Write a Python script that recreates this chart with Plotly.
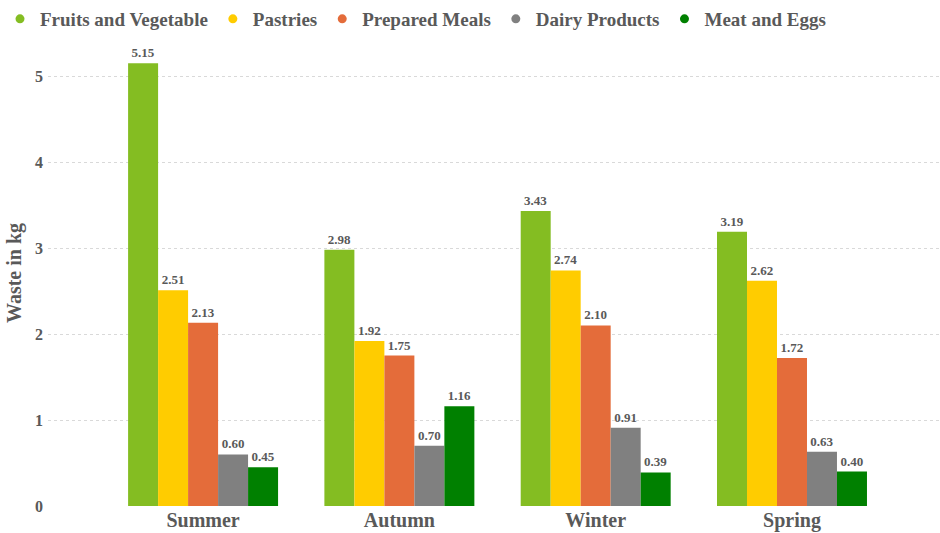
import plotly.graph_objects as go

seasons = ["Summer", "Autumn", "Winter", "Spring"]
series_names = ["Fruits and Vegetable", "Pastries", "Prepared Meals", "Dairy Products", "Meat and Eggs"]
fruits_veg = [5.15, 2.98, 3.43, 3.19]
pastries = [2.51, 1.92, 2.74, 2.62]
prepared_meals = [2.13, 1.75, 2.10, 1.72]
dairy = [0.60, 0.70, 0.91, 0.63]
meat_eggs = [0.45, 1.16, 0.39, 0.40]
y_ticks = [0, 1, 2, 3, 4, 5]

series_values = [fruits_veg, pastries, prepared_meals, dairy, meat_eggs]
colors = ["#84BD22", "#FFCC00", "#E46C3A", "#808080", "#008000"]

FONT = "Liberation Serif, Times New Roman, Tinos, DejaVu Serif, serif"
TXT = "#595959"

fig = go.Figure()
for name, vals, col in zip(series_names, series_values, colors):
    fig.add_trace(go.Bar(
        x=seasons, y=vals, name=name, marker=dict(color=col, line=dict(width=0)),
        text=[f"{v:.2f}" for v in vals], textposition="outside",
        textfont=dict(family=FONT, size=13, color=TXT, weight="bold"),
        cliponaxis=False, showlegend=False, hoverinfo="skip",
    ))
# legend entries with round markers
for name, col in zip(series_names, colors):
    fig.add_trace(go.Scatter(
        x=[None], y=[None], mode="markers", name=name,
        marker=dict(color=col, size=9, symbol="circle"), showlegend=True,
    ))

fig.update_layout(
    width=940, height=533,
    margin=dict(l=48, r=0, t=40, b=27, autoexpand=False),
    paper_bgcolor="white", plot_bgcolor="white",
    barmode="group", bargap=0.236, bargroupgap=0,
    font=dict(family=FONT, color=TXT, weight="bold"),
    legend=dict(
        orientation="h", x=-0.005, xref="container", xanchor="left",
        y=1.0, yref="container", yanchor="top",
        font=dict(family=FONT, size=19, color=TXT, weight="bold"),
        itemwidth=30, bgcolor="rgba(0,0,0,0)",
    ),
    showlegend=True,
)
fig.update_xaxes(
    type="category", range=[-0.79, 3.754], showgrid=False, zeroline=False, showline=False,
    ticks="", tickfont=dict(family=FONT, size=20, color=TXT, weight="bold"),
)
fig.update_yaxes(
    range=[0, 5.419], tickvals=y_ticks, showgrid=True, gridcolor="#D9D9D9", griddash="dot",
    gridwidth=1, zeroline=False, showline=False, ticks="", ticklabelstandoff=4,
    tickfont=dict(family=FONT, size=16, color=TXT, weight="bold"),
    title=dict(text="Waste in kg", font=dict(family=FONT, size=20, color=TXT, weight="bold"), standoff=8),
)

fig.write_html("out.html")
